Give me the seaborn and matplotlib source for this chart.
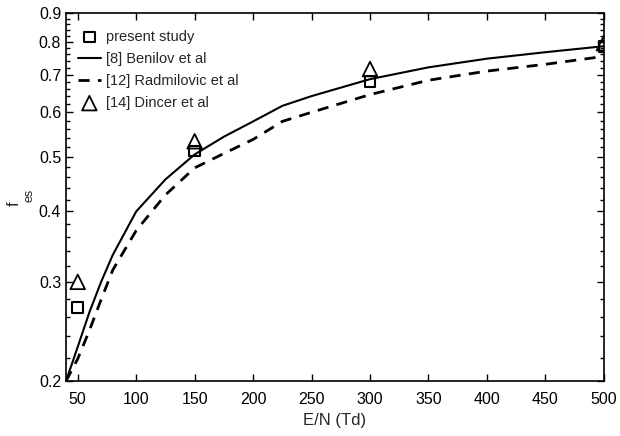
import numpy as np
import pandas as pd
import matplotlib
matplotlib.use("Agg")
import matplotlib.pyplot as plt
from matplotlib.ticker import FixedLocator, FixedFormatter, NullFormatter
import seaborn as sns

# ---- data ----
present_x = [50, 150, 300, 500]
present_y = [0.270, 0.512, 0.681, 0.786]

dincer_x = [50, 150, 300, 500]
dincer_y = [0.300, 0.533, 0.716, 0.796]

benilov_x = [40, 50, 60, 70, 80, 100, 125, 150, 175, 200, 225, 250, 300, 350, 400, 450, 500]
benilov_y = [0.200, 0.230, 0.265, 0.300, 0.335, 0.400, 0.456, 0.505, 0.543, 0.578, 0.616,
             0.641, 0.687, 0.721, 0.747, 0.767, 0.786]

radmilovic_x = [40, 50, 60, 70, 80, 100, 125, 150, 175, 200, 225, 250, 300, 350, 400, 450, 500]
radmilovic_y = [0.200, 0.219, 0.246, 0.279, 0.315, 0.370, 0.428, 0.478, 0.507, 0.537, 0.578,
                0.600, 0.645, 0.684, 0.710, 0.730, 0.754]

x_ticks = [50, 100, 150, 200, 250, 300, 350, 400, 450, 500]
y_ticks = [0.2, 0.3, 0.4, 0.5, 0.6, 0.7, 0.8, 0.9]
y_tick_labels = ["0.2", "0.3", "0.4", "0.5", "0.6", "0.7", "0.8", "0.9"]

# ---- style ----
sns.set_style("ticks")
plt.rcParams["font.family"] = ["Liberation Sans", "DejaVu Sans"]

W, H = 620, 436
fig = plt.figure(figsize=(6.2, 4.36), dpi=100)
ax = fig.add_axes([0.1065, 0.126, 0.8675, 0.844])

df_present = pd.DataFrame({"x": present_x, "y": present_y})
df_dincer = pd.DataFrame({"x": dincer_x, "y": dincer_y})
df_ben = pd.DataFrame({"x": benilov_x, "y": benilov_y})
df_rad = pd.DataFrame({"x": radmilovic_x, "y": radmilovic_y})

sns.scatterplot(data=df_present, x="x", y="y", ax=ax, marker="s", s=60,
                facecolor="none", edgecolor="black", linewidth=1.5,
                label="present study", zorder=4)
sns.lineplot(data=df_ben, x="x", y="y", ax=ax, color="black", linewidth=1.5,
             label="[8] Benilov et al", zorder=3)
sns.lineplot(data=df_rad, x="x", y="y", ax=ax, color="black", linewidth=2.0,
             linestyle=(0, (4, 3)), label="[12] Radmilovic et al", zorder=3)
sns.scatterplot(data=df_dincer, x="x", y="y", ax=ax, marker="^", s=110,
                facecolor="none", edgecolor="black", linewidth=1.3,
                label="[14] Dincer et al", zorder=4)

ax.set_yscale("log")
ax.set_xlim(40, 500)
ax.set_ylim(0.2, 0.9)
ax.set_xticks(x_ticks)
ax.yaxis.set_major_locator(FixedLocator(y_ticks))
ax.yaxis.set_major_formatter(FixedFormatter(y_tick_labels))
minor = [round(v, 2) for v in np.arange(0.22, 0.9, 0.02) if round(v, 2) not in y_ticks]
ax.yaxis.set_minor_locator(FixedLocator(minor))
ax.yaxis.set_minor_formatter(NullFormatter())
ax.xaxis.set_minor_locator(FixedLocator([]))

ax.tick_params(axis="both", which="both", direction="in", top=True, right=True,
               labelsize=11.5, colors="black", width=1.0)
ax.tick_params(axis="x", which="major", pad=8)
ax.tick_params(which="major", length=5)
ax.tick_params(which="minor", length=3)
for sp in ax.spines.values():
    sp.set_linewidth(1.2)
    sp.set_color("black")

ax.set_xlabel("E/N (Td)", fontsize=12, labelpad=4)
ax.set_ylabel("")
# y label: "f" with subscript "es"
fig.text(14 / W, 1 - 204 / H, "f", rotation=90, ha="center", va="center", fontsize=12)
fig.text(29.5 / W, 1 - 195 / H, "es", rotation=90, ha="center", va="center", fontsize=9)

leg = ax.legend(loc="upper left", bbox_to_anchor=(0.0, 0.986), frameon=False,
                fontsize=10.5, handlelength=1.6, handletextpad=0.35,
                labelspacing=0.55, borderaxespad=0.4)

fig.savefig("out.png", dpi=100)
